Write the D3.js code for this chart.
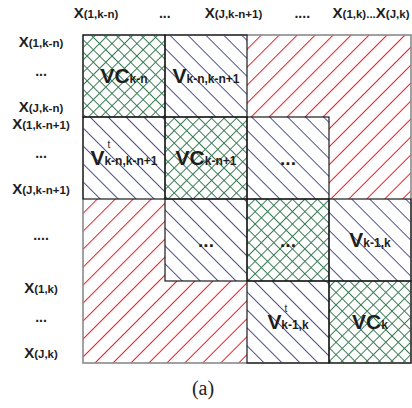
<!DOCTYPE html>
<html>
<head>
<meta charset="utf-8">
<script src="https://cdn.jsdelivr.net/npm/d3@7"></script>
<style>
  body { margin: 0; background: #fff; }
  text { font-family: "Liberation Sans", Arial, sans-serif; font-weight: bold; fill: #1e1e1e; }
</style>
</head>
<body>
<div class="visContainer"></div>
<script>
// Block layout of the matrix: vc = green cross hatch, v = blue, r = red.
const cellKinds = [
    ['vc', 'v', 'r', 'r'],
    ['v', 'vc', 'v', 'r'],
    ['r', 'v', 'vc', 'v'],
    ['r', 'r', 'v', 'vc']
];
const cellMain = [
    ['VC', 'V', '', ''],
    ['V', 'VC', '...', ''],
    ['', '...', '...', 'V'],
    ['', '', 'V', 'VC']
];
const cellSub = [
    ['k-n', 'k-n,k-n+1', '', ''],
    ['k-n,k-n+1', 'k-n+1', '', ''],
    ['', '', '', 'k-1,k'],
    ['', '', 'k-1,k', 'k']
];
const cellSup = [
    ['', '', '', ''],
    ['t', '', '', ''],
    ['', '', '', ''],
    ['', '', 't', '']
];
const topLabels = ['X(1,k-n)', '...', 'X(J,k-n+1)', '....', 'X(1,k)...X(J,k)'];
const rowLabels = [
    ['X(1,k-n)', '...', 'X(J,k-n)'],
    ['X(1,k-n+1)', '...', 'X(J,k-n+1)'],
    ['....'],
    ['X(1,k)', '...', 'X(J,k)']
];
const caption = '(a)';

// SVG constants.
const width = 412;
const height = 408;

const svg = d3.select('.visContainer')
              .append('svg')
              .attr('width', width)
              .attr('height', height);

// Hatch patterns.
const defs = svg.append('defs');
function hatch(id, color, step, cross, angle) {
    const p = defs.append('pattern')
                  .attr('id', id)
                  .attr('patternUnits', 'userSpaceOnUse')
                  .attr('width', step)
                  .attr('height', step)
                  .attr('patternTransform', 'rotate(' + angle + ')');
    p.append('line')
     .attr('x1', step / 2).attr('y1', 0)
     .attr('x2', step / 2).attr('y2', step)
     .attr('stroke', color).attr('stroke-width', 1);
    if (cross) {
        p.append('line')
         .attr('x1', 0).attr('y1', step / 2)
         .attr('x2', step).attr('y2', step / 2)
         .attr('stroke', color).attr('stroke-width', 1);
    }
}
hatch('r', '#f51c24', 12.7, false, 45);
hatch('v', '#4e4e8e', 12.7, false, -45);
hatch('vc', '#3a7a55', 8.8, true, 45);

// Scales.
const idx = d3.range(4);
const xScale = d3.scaleBand().domain(idx).range([83, 411]);
const yScale = d3.scaleBand().domain(idx).range([35, 363]);
const bw = xScale.bandwidth();

const cells = [];
cellKinds.forEach((row, r) => row.forEach((kind, c) => {
    cells.push({ r, c, kind, main: cellMain[r][c], sub: cellSub[r][c], sup: cellSup[r][c] });
}));

// Cell fills.
svg.selectAll('rect.cell')
   .data(cells)
   .enter()
   .append('rect')
   .attr('class', 'cell')
   .attr('x', (d) => xScale(d.c))
   .attr('y', (d) => yScale(d.r))
   .attr('width', bw)
   .attr('height', bw)
   .attr('fill', (d) => 'url(#' + d.kind + ')');

// Outer frame.
svg.append('rect')
   .attr('x', 83).attr('y', 35)
   .attr('width', 328).attr('height', 328)
   .attr('fill', 'none')
   .attr('stroke', '#8a8a8a')
   .attr('stroke-width', 1.6);

// Black borders around the non-red blocks.
svg.selectAll('rect.border')
   .data(cells.filter((d) => d.kind != 'r'))
   .enter()
   .append('rect')
   .attr('class', 'border')
   .attr('x', (d) => xScale(d.c))
   .attr('y', (d) => yScale(d.r))
   .attr('width', bw)
   .attr('height', bw)
   .attr('fill', 'none')
   .attr('stroke', '#1a1a1a')
   .attr('stroke-width', 1.2);

// Cell labels.
const labels = svg.selectAll('text.clabel')
   .data(cells.filter((d) => d.main))
   .enter()
   .append('text')
   .attr('class', 'clabel')
   .attr('x', (d) => xScale(d.c) + bw / 2)
   .attr('y', (d) => yScale(d.r) + bw / 2 + 7)
   .attr('text-anchor', 'middle');

labels.append('tspan')
      .attr('font-size', (d) => d.main == '...' ? '19px' : '21px')
      .text((d) => d.main);
labels.filter((d) => d.sup)
      .append('tspan')
      .attr('font-size', '10px')
      .attr('font-weight', 'normal')
      .attr('dx', 3)
      .attr('dy', -17)
      .text((d) => d.sup);
labels.filter((d) => d.sub)
      .append('tspan')
      .attr('font-size', '12px')
      .attr('dx', (d) => d.sup ? -6 : 0)
      .attr('dy', (d) => d.sup ? 17 : 0)
      .text((d) => d.sub);

// Axis style labels: "X" large, the bracket part small.
function axisLabel(sel, txt) {
    const onlyDots = /^\.+$/.test(txt);
    if (onlyDots) {
        sel.append('tspan').attr('font-size', '14px').text(txt);
        return;
    }
    const parts = txt.match(/X|\([^)]*\)|\.+/g);
    parts.forEach((p) => {
        if (p == 'X') {
            sel.append('tspan').attr('font-size', '15px').text(p);
        } else {
            sel.append('tspan').attr('font-size', '11.5px').text(p);
        }
    });
}

const topScale = d3.scalePoint()
                   .domain(d3.range(topLabels.length))
                   .range([96, 371]);

topLabels.forEach((t, i) => {
    const sel = svg.append('text')
                   .attr('x', topScale(i))
                   .attr('y', 18)
                   .attr('text-anchor', 'middle');
    axisLabel(sel, t);
});

rowLabels.forEach((labs, r) => {
    const sub = d3.scalePoint()
                  .domain(d3.range(labs.length))
                  .range([0.09 * bw, 0.875 * bw]);
    labs.forEach((t, i) => {
        const dots = /^\.+$/.test(t);
        const sel = svg.append('text')
                       .attr('x', 41)
                       .attr('y', yScale(r) + sub(i) + (dots ? 1.5 : 5))
                       .attr('text-anchor', 'middle');
        axisLabel(sel, t);
    });
});

// Caption.
svg.append('text')
   .attr('x', 203)
   .attr('y', 395)
   .attr('text-anchor', 'middle')
   .style('font-family', '"Liberation Serif", "DejaVu Serif", serif')
   .style('font-weight', 'normal')
   .attr('font-size', '20px')
   .text(caption);
</script>
</body>
</html>
